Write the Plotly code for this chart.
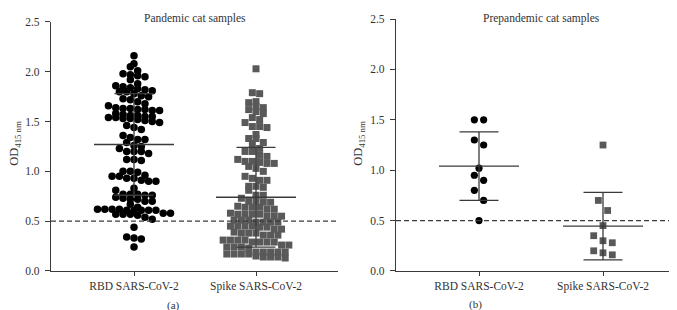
import plotly.graph_objects as go

W, H = 677, 310

# ---------------- data ----------------
categories = ["RBD SARS-CoV-2", "Spike SARS-CoV-2"]

pandemic_rbd = [
    2.16, 2.08, 2.05, 2.01, 1.98, 1.97, 1.96, 1.95, 1.92, 1.88, 1.86, 1.85, 1.84,
    1.83, 1.82, 1.81, 1.80, 1.80, 1.78, 1.76, 1.75, 1.73, 1.72, 1.70, 1.68, 1.66,
    1.64, 1.63, 1.63, 1.62, 1.62, 1.61, 1.61, 1.58, 1.57, 1.56, 1.56, 1.55, 1.55,
    1.54, 1.54, 1.53, 1.53, 1.52, 1.51, 1.50, 1.49, 1.46, 1.44, 1.42, 1.36, 1.34,
    1.32, 1.32, 1.29, 1.26, 1.25, 1.23, 1.20, 1.20, 1.20, 1.18, 1.12, 1.12, 1.11,
    1.00, 1.00, 0.99, 0.96, 0.95, 0.95, 0.93, 0.93, 0.91, 0.90, 0.90, 0.83, 0.81,
    0.77, 0.77, 0.77, 0.76, 0.76, 0.74, 0.73, 0.72, 0.72, 0.70, 0.70, 0.67, 0.64,
    0.62, 0.62, 0.62, 0.62, 0.61, 0.61, 0.61, 0.61, 0.61, 0.58, 0.58, 0.57, 0.57,
    0.57, 0.56, 0.54, 0.52, 0.44, 0.34, 0.33, 0.32, 0.24,
]
pandemic_spike = [
    2.03, 1.79, 1.78, 1.70, 1.69, 1.65, 1.64, 1.62, 1.60, 1.58, 1.54, 1.52, 1.49,
    1.45, 1.45, 1.44, 1.37, 1.33, 1.33, 1.29, 1.28, 1.23, 1.20, 1.20, 1.16, 1.15,
    1.12, 1.10, 1.10, 1.09, 1.08, 1.08, 1.05, 1.03, 1.00, 0.95, 0.93, 0.91, 0.91,
    0.85, 0.85, 0.84, 0.81, 0.76, 0.76, 0.73, 0.70, 0.70, 0.69, 0.69, 0.65, 0.64,
    0.64, 0.64, 0.62, 0.62, 0.58, 0.57, 0.57, 0.57, 0.57, 0.55, 0.55, 0.55, 0.51,
    0.51, 0.51, 0.49, 0.49, 0.49, 0.49, 0.45, 0.45, 0.45, 0.45, 0.44, 0.44, 0.42,
    0.42, 0.39, 0.38, 0.38, 0.38, 0.36, 0.36, 0.36, 0.31, 0.31, 0.31, 0.31, 0.29,
    0.29, 0.29, 0.29, 0.26, 0.26, 0.24, 0.24, 0.24, 0.23, 0.19, 0.19, 0.19, 0.19,
    0.19, 0.17, 0.17, 0.17, 0.17, 0.15, 0.14, 0.14, 0.14, 0.13,
]
prepandemic_rbd = [1.50, 1.50, 1.30, 1.25, 1.02, 0.95, 0.90, 0.80, 0.70, 0.50]
prepandemic_spike = [1.25, 0.70, 0.60, 0.45, 0.35, 0.30, 0.28, 0.20, 0.18, 0.16]

pandemic_mean = [1.27, 0.74]
pandemic_sd = [0.51, 0.50]
prepandemic_mean = [1.04, 0.445]
prepandemic_sd = [0.34, 0.335]

cutoff = 0.5
y_tickvals = [0.0, 0.5, 1.0, 1.5, 2.0, 2.5]
y_ticktext = ["0.0", "0.5", "1.0", "1.5", "2.0", "2.5"]

panel_titles = ["Pandemic cat samples", "Prepandemic cat samples"]
panel_letters = ["(a)", "(b)"]

# ---------------- layout geometry ----------------
FONT = "Liberation Serif"
AX = "#3a3a3a"
TXT = "#333333"

# panel pixel boxes and category pixel positions
panels = [
    dict(x0=43, x1=330, yt=8.3, yb=267.3, c0=126, c1=248),
    dict(x0=388, x1=675, yt=5.3, yb=267.3, c0=471, c1=595),
]


def swarm(vals, row_gap, step_px):
    """GraphPad-like scatter: group close values in rows, spread each row."""
    asc = sorted(vals)
    rows = []
    for v in asc:
        if rows and v - rows[-1][0] <= row_gap + 1e-6:
            rows[-1].append(v)
        else:
            rows.append([v])
    ys, offs = [], []
    for r in rows:
        rd = sorted(r, reverse=True)
        n = len(rd)
        for i, v in enumerate(rd):
            ys.append(v)
            offs.append((i - (n - 1) / 2) * step_px)
    return ys, offs


fig = go.Figure()
shapes = []
annotations = []

groups = [
    (pandemic_rbd, pandemic_spike, pandemic_mean, pandemic_sd, 0.05, 7.3, 7.5, 7.0),
    (prepandemic_rbd, prepandemic_spike, prepandemic_mean, prepandemic_sd, 0.1, 9.3, 7.2, 6.8),
]

for k, (rbd, spike, means, sds, gap, step, csize, ssize) in enumerate(groups):
    p = panels[k]
    ppu = p["c1"] - p["c0"]  # pixels per category unit
    xr = [-(p["c0"] - p["x0"]) / ppu, 1 + (p["x1"] - p["c1"]) / ppu]
    sfx = "" if k == 0 else str(k + 1)
    xa, ya = "x" + sfx, "y" + sfx

    for ci, (vals, sym, col, size) in enumerate(
        [(rbd, "circle", "#000000", csize), (spike, "square", "#595959", ssize)]
    ):
        ys, offs = swarm(vals, gap, step)
        xs = [ci + o / ppu for o in offs]
        fig.add_trace(go.Scatter(
            x=xs, y=ys, mode="markers", xaxis=xa, yaxis=ya, showlegend=False,
            marker=dict(symbol=sym, color=col, size=size, line=dict(width=0)),
            cliponaxis=False,
        ))

    # mean and SD lines
    for ci in range(2):
        m, s = means[ci], sds[ci]
        hw_mean = 40 / ppu
        hw_cap = 19.5 / ppu
        lw = dict(color=AX, width=1.3)
        shapes.append(dict(type="line", xref=xa, yref=ya, x0=ci - hw_mean, x1=ci + hw_mean,
                           y0=m, y1=m, line=lw))
        shapes.append(dict(type="line", xref=xa, yref=ya, x0=ci, x1=ci,
                           y0=m - s, y1=m + s, line=lw))
        for yy in (m - s, m + s):
            shapes.append(dict(type="line", xref=xa, yref=ya, x0=ci - hw_cap, x1=ci + hw_cap,
                               y0=yy, y1=yy, line=lw))

    # cut-off dashed line
    shapes.append(dict(type="line", xref=xa + " domain", yref=ya, x0=0, x1=1,
                       y0=cutoff, y1=cutoff, line=dict(color=AX, width=1.2, dash="5px,3px")))

    xdom = [p["x0"] / W, p["x1"] / W]
    ydom = [(H - p["yb"]) / H, (H - p["yt"]) / H]
    fig.update_layout(**{
        "xaxis" + sfx: dict(
            domain=xdom, range=xr, anchor=ya, tickvals=[0, 1], ticktext=categories,
            ticks="outside", ticklen=4, tickwidth=1.2, tickcolor=AX,
            showline=True, linecolor=AX, linewidth=1.3, showgrid=False, zeroline=False,
            tickfont=dict(family=FONT, size=11.5, color=TXT), fixedrange=True,
        ),
        "yaxis" + sfx: dict(
            domain=ydom, range=[0, 2.5], anchor=xa, tickvals=y_tickvals, ticktext=y_ticktext,
            ticks="outside", ticklen=5, tickwidth=1.2, tickcolor=AX,
            showline=True, linecolor=AX, linewidth=1.3, showgrid=False, zeroline=False,
            tickfont=dict(family=FONT, size=11.5, color=TXT), fixedrange=True,
            ticklabelstandoff=3,
        ),
    })

    # panel title
    annotations.append(dict(
        text=panel_titles[k], xref="paper", yref="paper",
        x=(p["c0"] + p["c1"]) / 2 / W, y=(H - 4.5) / H, xanchor="center", yanchor="middle",
        showarrow=False, font=dict(family=FONT, size=11.5, color=TXT),
    ))
    # y title
    annotations.append(dict(
        text="OD<sub>415 nm</sub>", xref="paper", yref="paper",
        x=(7 if k == 0 else 351) / W, y=(H - 135) / H, xanchor="center", yanchor="middle",
        textangle=-90, showarrow=False, font=dict(family=FONT, size=12.5, color=TXT),
    ))
    # panel letter
    annotations.append(dict(
        text=panel_letters[k], xref="paper", yref="paper",
        x=(165 if k == 0 else 468) / W, y=(H - (303.5 if k == 0 else 302)) / H,
        xanchor="center", yanchor="middle", showarrow=False,
        font=dict(family=FONT, size=11, color=TXT),
    ))

fig.update_layout(
    width=W, height=H, margin=dict(l=0, r=0, t=0, b=0),
    paper_bgcolor="white", plot_bgcolor="white",
    shapes=shapes, annotations=annotations, showlegend=False,
)

fig.write_html("out.html", config={"displayModeBar": False})
